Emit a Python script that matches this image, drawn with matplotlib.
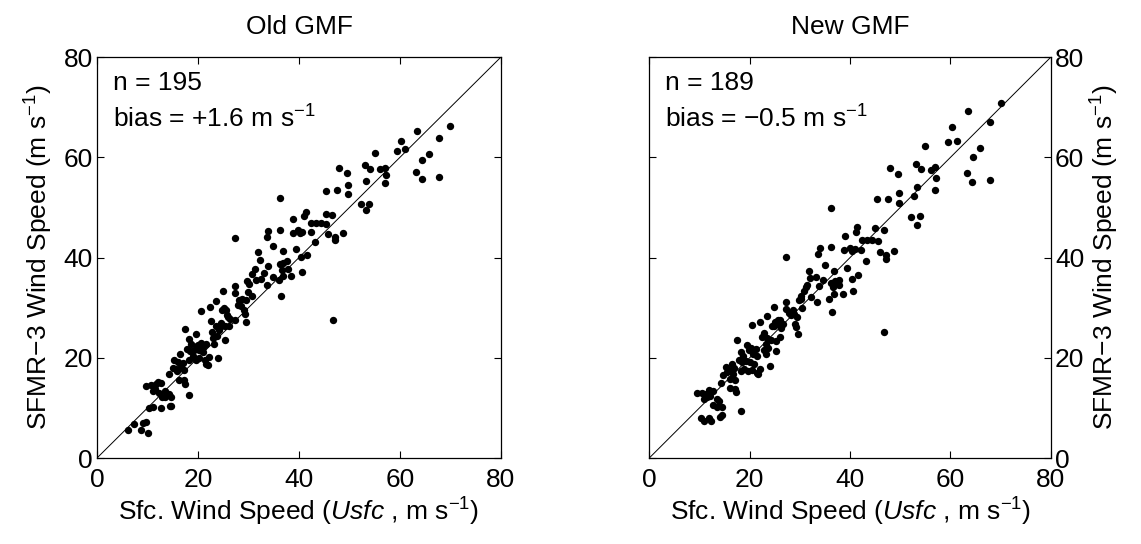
import numpy as np
import matplotlib
matplotlib.use("Agg")
import matplotlib.pyplot as plt

plt.rcParams['font.family'] = ['Liberation Sans', 'DejaVu Sans']
plt.rcParams['mathtext.fontset'] = 'custom'
plt.rcParams['mathtext.rm'] = 'Liberation Sans'
plt.rcParams['mathtext.it'] = 'Liberation Sans:italic'
plt.rcParams['axes.unicode_minus'] = True

# Old GMF: (surface wind, SFMR-3 wind)
old_x = [70.0, 63.4, 67.8, 60.3, 55.0, 59.4, 61.1, 65.8, 64.4, 53.1, 47.9, 49.5, 54.1, 56.0, 57.0,
         57.2, 63.2, 64.3, 67.8, 53.3, 57.0, 45.4, 47.5, 49.7, 49.8, 36.3, 52.3, 53.9, 53.3, 41.4,
         41.0, 45.4, 46.6, 38.9, 42.3, 43.4, 44.4, 45.4, 45.8, 48.7, 47.1, 47.1, 33.9, 36.3, 38.8,
         39.9, 40.3, 40.7, 42.3, 33.7, 27.3, 43.1, 34.9, 39.5, 31.9, 36.9, 41.5, 40.4, 32.2, 36.3,
         36.9, 37.7, 33.9, 31.2, 36.6, 37.8, 40.7, 38.5, 36.9, 36.0, 30.8, 29.7, 32.5, 33.6, 27.4,
         30.2, 30.8, 36.5, 24.9, 23.6, 27.3, 28.1, 28.8, 29.5, 22.3, 20.6, 25.1, 25.5, 24.7, 29.1,
         29.4, 27.4, 29.6, 46.8, 22.6, 23.5, 24.4, 25.4, 26.1, 17.5, 19.6, 24.1, 23.7, 25.4, 23.0,
         20.6, 21.5, 23.2, 18.3, 18.7, 17.8, 16.4, 18.4, 19.2, 20.2, 20.9, 19.1, 18.2, 19.6, 20.3,
         22.1, 21.4, 21.9, 21.6, 23.9, 15.3, 16.0, 15.0, 16.7, 15.9, 17.2, 14.2, 16.2, 17.2, 17.4,
         9.7, 10.7, 11.6, 12.1, 12.6, 11.1, 11.5, 13.5, 14.2, 13.4, 12.9, 14.6, 18.3, 10.4, 11.1,
         12.6, 14.6, 14.5, 7.4, 6.2, 8.8, 9.8, 10.1, 9.2, 26.4, 27.9, 22.8, 21.0, 24.6, 19.8,
         17.0, 26.0, 28.5, 31.5, 34.8, 12.3, 15.6, 20.0, 25.8, 30.0, 33.0]
old_y = [66.2, 65.2, 63.9, 63.3, 60.9, 61.3, 61.6, 60.6, 59.4, 58.5, 57.9, 56.9, 57.6, 57.7, 57.9,
         56.5, 57.1, 55.7, 56.1, 55.3, 54.8, 53.3, 53.4, 54.5, 52.7, 51.9, 50.7, 50.7, 49.4, 49.1,
         48.3, 48.7, 48.4, 47.6, 46.9, 46.9, 46.9, 46.7, 44.8, 44.9, 44.1, 43.6, 45.3, 45.6, 44.9,
         45.6, 44.9, 45.1, 45.1, 44.1, 43.9, 43.1, 42.4, 41.8, 41.2, 41.3, 40.6, 40.1, 39.6, 38.8,
         39.0, 39.3, 38.3, 37.8, 37.5, 37.8, 37.1, 36.3, 36.4, 35.6, 36.8, 35.3, 35.8, 34.5, 34.4,
         34.8, 32.3, 32.3, 33.3, 31.3, 32.9, 31.6, 31.7, 31.5, 30.1, 29.3, 30.0, 29.5, 29.5, 29.5,
         28.8, 27.6, 27.1, 27.6, 27.3, 26.4, 26.1, 26.3, 26.4, 25.8, 24.8, 25.5, 24.3, 23.5, 24.0,
         22.9, 22.7, 22.8, 23.8, 22.7, 21.8, 20.7, 21.3, 21.6, 21.5, 21.2, 20.3, 19.6, 19.5, 20.0,
         20.1, 19.5, 18.5, 18.8, 20.0, 19.5, 19.1, 18.0, 18.1, 17.3, 17.5, 16.7, 15.6, 15.5, 14.8,
         14.4, 14.5, 14.8, 15.1, 14.9, 13.4, 13.8, 13.3, 12.8, 12.1, 12.1, 12.1, 12.5, 10.0, 10.1,
         10.0, 10.4, 10.3, 6.7, 5.5, 5.6, 7.1, 4.9, 6.9, 27.8, 30.6, 25.2, 22.1, 27.0, 22.4,
         19.0, 28.2, 30.4, 35.6, 36.2, 13.0, 17.8, 22.6, 28.6, 33.1, 37.0]

# New GMF
new_x = [70.1, 63.4, 60.4, 67.9, 55.0, 59.6, 61.4, 65.8, 64.4, 53.1, 47.9, 49.5, 54.1, 56.1, 57.0,
         57.1, 63.2, 64.2, 67.8, 53.3, 57.0, 45.3, 47.5, 49.7, 49.8, 52.7, 36.2, 52.1, 53.9, 53.3,
         41.4, 41.1, 44.9, 46.7, 39.0, 42.4, 43.4, 44.4, 45.6, 45.9, 48.7, 47.1, 47.1, 34.1, 36.3,
         38.8, 40.0, 40.4, 40.9, 42.1, 33.6, 27.3, 43.1, 35.1, 39.4, 31.8, 36.8, 41.6, 40.4, 32.1,
         36.2, 37.1, 37.8, 33.9, 31.2, 36.6, 37.8, 40.6, 38.5, 36.9, 35.9, 30.9, 29.8, 32.3, 33.4,
         27.3, 30.3, 30.5, 36.4, 24.9, 23.5, 27.3, 28.3, 28.9, 29.5, 22.1, 20.5, 25.1, 25.4, 24.5,
         29.1, 29.3, 26.7, 29.6, 46.7, 22.8, 23.5, 24.3, 25.3, 26.0, 17.4, 19.5, 23.3, 23.7, 25.3,
         22.9, 20.7, 21.5, 23.2, 18.2, 18.6, 17.8, 16.4, 18.4, 19.3, 20.1, 20.9, 18.8, 18.2, 19.6,
         20.4, 22.1, 21.5, 21.7, 24.1, 15.2, 15.8, 14.6, 16.7, 16.0, 17.0, 14.2, 16.0, 17.0, 17.2,
         9.6, 10.6, 11.4, 12.0, 12.8, 11.0, 11.5, 13.5, 13.8, 12.8, 13.5, 14.5, 18.3, 10.3, 11.0,
         12.0, 12.4, 14.0, 14.4, 26.2, 27.8, 22.5, 21.2, 24.8, 19.9, 16.8, 26.0, 28.6, 31.4, 34.6,
         12.2, 15.5, 20.3, 25.6, 30.2, 33.2]
new_y = [70.9, 69.3, 66.1, 67.0, 62.3, 63.1, 63.3, 61.9, 60.1, 58.7, 57.9, 56.7, 57.6, 57.5, 58.0,
         55.8, 56.8, 55.1, 55.5, 54.1, 53.5, 51.6, 51.7, 52.9, 50.8, 52.3, 49.8, 48.1, 48.3, 46.5,
         46.2, 45.1, 46.0, 45.5, 44.3, 43.5, 43.5, 43.5, 43.3, 41.1, 41.3, 40.5, 39.8, 41.9, 42.1,
         41.5, 42.0, 41.3, 41.7, 41.5, 40.7, 40.2, 39.3, 38.5, 37.9, 37.4, 37.4, 36.5, 35.8, 35.9,
         35.0, 35.4, 35.5, 34.4, 34.1, 34.1, 34.5, 33.4, 32.7, 32.8, 31.8, 33.4, 31.6, 32.1, 31.1,
         31.1, 31.8, 29.9, 29.1, 30.1, 28.3, 29.8, 28.6, 28.8, 28.1, 27.1, 26.6, 27.1, 26.7, 26.3,
         26.8, 26.1, 26.7, 24.7, 25.1, 24.9, 24.0, 23.6, 23.3, 24.1, 23.5, 22.6, 22.8, 21.9, 21.3,
         21.6, 20.7, 20.3, 20.8, 21.1, 20.3, 19.5, 18.8, 19.1, 19.3, 19.1, 18.8, 17.8, 17.3, 17.3,
         17.6, 17.8, 16.9, 16.7, 18.3, 18.1, 17.5, 16.5, 16.7, 15.8, 15.5, 15.0, 14.0, 13.8, 13.1,
         12.9, 12.9, 12.8, 13.5, 13.3, 11.8, 12.1, 11.8, 11.3, 10.5, 10.1, 10.1, 9.3, 7.9, 7.3,
         7.9, 7.3, 8.1, 8.5, 26.0, 29.0, 24.2, 21.8, 26.4, 21.5, 18.0, 27.6, 29.6, 34.5, 35.6,
         12.4, 17.2, 22.0, 27.5, 32.4, 36.1]

titles = ["Old GMF", "New GMF"]
counts = [195, 189]
biases = ["+1.6", "\u22120.5"]

fs = 19

fig = plt.figure(figsize=(11.41, 5.44), dpi=100)
ax1 = fig.add_axes([0.085, 0.158, 0.354, 0.737])
ax2 = fig.add_axes([0.569, 0.158, 0.352, 0.737])

for i, (ax, xs, ys) in enumerate([(ax1, old_x, old_y), (ax2, new_x, new_y)]):
    ax.plot([0, 80], [0, 80], color='black', lw=0.7)
    ax.plot(xs, ys, 'o', color='black', markersize=5.3, markeredgewidth=0)
    ax.set_xlim(0, 80)
    ax.set_ylim(0, 80)
    ax.set_xticks([0, 20, 40, 60, 80])
    ax.set_yticks([0, 20, 40, 60, 80])
    ax.tick_params(direction='in', top=True, right=True, left=True, bottom=True,
                   labelsize=fs, length=5, width=0.8, pad=3)
    ax.tick_params(axis='x', pad=7)
    for sp in ax.spines.values():
        sp.set_linewidth(0.9)
    ax.set_title(titles[i], fontsize=fs, pad=17)
    ax.set_xlabel('Sfc. Wind Speed ($\\it{Usfc}$ , m s$^{-1}$)', fontsize=fs, labelpad=3)
    ax.text(0.04, 0.935, 'n = %d' % counts[i], transform=ax.transAxes,
            fontsize=fs, va='center', ha='left')
    ax.text(0.04, 0.845, 'bias = %s m s$^{-1}$' % biases[i], transform=ax.transAxes,
            fontsize=fs, va='center', ha='left')

ax1.set_ylabel('SFMR\u22123 Wind Speed (m s$^{-1}$)', fontsize=fs, labelpad=6)
ax2.yaxis.set_label_position('right')
ax2.yaxis.tick_right()
ax2.tick_params(axis='y', left=True, right=True, labelleft=False, labelright=True)
ax2.set_ylabel('SFMR\u22123 Wind Speed (m s$^{-1}$)', fontsize=fs, labelpad=3)

fig.savefig('out.png', dpi=100)
